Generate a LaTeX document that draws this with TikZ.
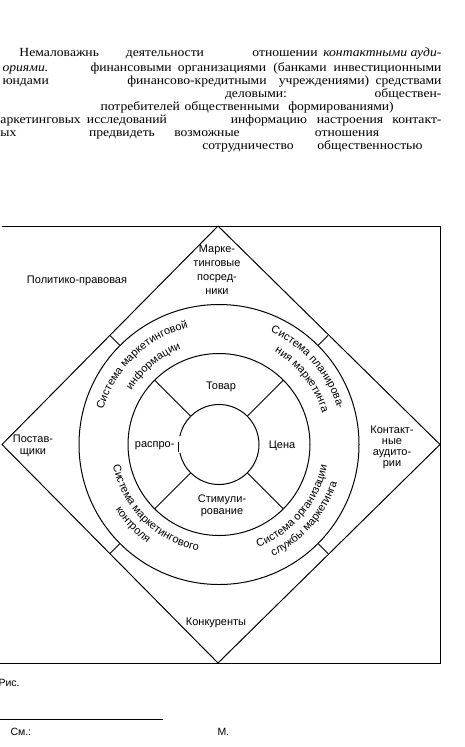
\documentclass[tikz,border=0pt]{standalone}
\usepackage{fontspec}
\setmainfont{Liberation Serif}
\setsansfont{Liberation Sans}
\newfontfamily\pagefont[FakeStretch=1.1]{Liberation Serif}
\usetikzlibrary{calc,decorations.text}
\newcommand{\ringfont}{\sffamily\fontsize{11}{13}\selectfont}
\tikzset{
  envlabel/.style={font=\sffamily\fontsize{11}{13}\selectfont,align=center,inner sep=0pt},
  footlabel/.style={font=\sffamily\fontsize{10.5}{12}\selectfont,anchor=west,inner sep=0pt},
  paraword/.style={font=\pagefont\fontsize{12.4}{13}\selectfont,inner sep=0pt},
  ringtext/.style={decorate,decoration={text along path,text align=center,text={|\ringfont|#1}}}
}

\begin{document}
\begin{tikzpicture}[x=1pt,y=1pt,line width=1pt]
\useasboundingbox (0,0) rectangle (465,-747);

% text of the page above the figure
\foreach \x/\y/\a/\t [count=\i] in {
  19/56.5/base west/Немаловажнь, 165/56.5/base/деятельности, 285/56.5/base/отношении,
  442/56.5/base east/{\itshape контактными ауди-},
  2/71.5/base west/{\itshape ориями.}, 90/71.5/base west/финансовыми,
  222/71.5/base/организациями, 300/71.5/base/(банками, 442/71.5/base east/инвестиционными,
  2/84.5/base west/юндами, 197/84.5/base/финансово-кредитными,
  324/84.5/base/учреждениями), 442/84.5/base east/средствами,
  256/97/base/деловыми:, 442/97/base east/обществен-,
  100/110.5/base west/потребителей, 232/110.5/base/общественными,
  341/110.5/base/формированиями),
  0/123.5/base west/аркетинговых, 127/123.5/base/исследований, 269/123.5/base/информацию,
  350/123.5/base/настроения, 442/123.5/base east/контакт-,
  0/136.5/base west/ых, 122/136.5/base/предвидеть, 207/136.5/base/возможные,
  347/136.5/base/отношения,
  248/149.5/base/сотрудничество, 370/149.5/base/общественностью}
  \node[paraword,anchor=\a] (w\i) at (\x,-\y) {\t};

% frame and diamond
\coordinate (c) at (219,-444.5);
\coordinate (ftl) at (2,-226);
\coordinate (ftr) at (440,-226);
\coordinate (fbr) at (440,-663);
\coordinate (fbl) at (0,-663);
\draw (ftl) -- (ftr) -- (fbr) -- (fbl);
\coordinate (dt) at (218,-226);
\coordinate (dr) at (440,-444.5);
\coordinate (db) at (218,-663);
\coordinate (dl) at (2,-444.5);
\draw (dt) -- (dr) -- (db) -- (dl) -- cycle;

% circles
\draw (c) circle[radius=140];
\draw (c) circle[radius=91];
\draw ($(c)+(-168:40)$) arc[start angle=-168,end angle=168,radius=40];
\draw ($(c)+(-41,3)$) -- ($(c)+(-41,-7)$);
\foreach \a in {45,135,225,315}{
  \draw ($(c)+(\a:140)$) -- ($(c)+(\a:154.5)$);
  \draw ($(c)+(\a:40)$) -- ($(c)+(\a:91)$);
}

% outer field
\node[envlabel] (politico) at (77,-281) {Политико-правовая};
\node[envlabel,font=\sffamily\fontsize{11}{14}\selectfont] (posred) at (217,-270) {Марке-\\тинговые\\посред-\\ники};
\node[envlabel,font=\sffamily\fontsize{11}{11.7}\selectfont] (postav) at (33,-446) {Постав-\\щики};
\node[envlabel,font=\sffamily\fontsize{11}{10.8}\selectfont] (auditor) at (392,-447.5) {Контакт-\\ные\\аудито-\\рии};
\node[envlabel] (konkur) at (216,-623) {Конкуренты};

% ring of systems
\path[ringtext={Система маркетинговой}] ($(c)+(194:121)$) arc[start angle=194,end angle=74,radius=121];
\path[ringtext={информации}] ($(c)+(190:103)$) arc[start angle=190,end angle=70,radius=103];
\path[ringtext={Система планирова-}] ($(c)+(101:124)$) arc[start angle=101,end angle=-19,radius=124];
\path[ringtext={ния маркетинга}] ($(c)+(98:108)$) arc[start angle=98,end angle=-22,radius=108];
\path[ringtext={Система маркетингового}] ($(c)+(165:108)$) arc[start angle=165,end angle=285,radius=108];
\path[ringtext={контроля}] ($(c)+(163:122)$) arc[start angle=163,end angle=283,radius=122];
\path[ringtext={Система организации}] ($(c)+(260:110)$) arc[start angle=260,end angle=380,radius=110];
\path[ringtext={службы маркетинга}] ($(c)+(259:124)$) arc[start angle=259,end angle=379,radius=124];

% marketing mix
\node[envlabel] (tovar) at (221,-387) {Товар};
\node[envlabel] (tsena) at (282,-446) {Цена};
\node[envlabel,anchor=east] (raspro) at (175,-446) {распро-};
\node[envlabel,font=\sffamily\fontsize{11}{12}\selectfont] (stimul) at (222,-506) {Стимули-\\рование};

% below the figure
\node[footlabel] (ris) at (-2,-683) {Рис.};
\coordinate (rule0) at (0,-719);
\coordinate (rule1) at (163,-719);
\draw[line width=0.6pt] (rule0) -- (rule1);
\node[footlabel] (sm) at (10,-732) {См.:};
\node[footlabel] (mm) at (217,-732) {М.};
\end{tikzpicture}
\end{document}
